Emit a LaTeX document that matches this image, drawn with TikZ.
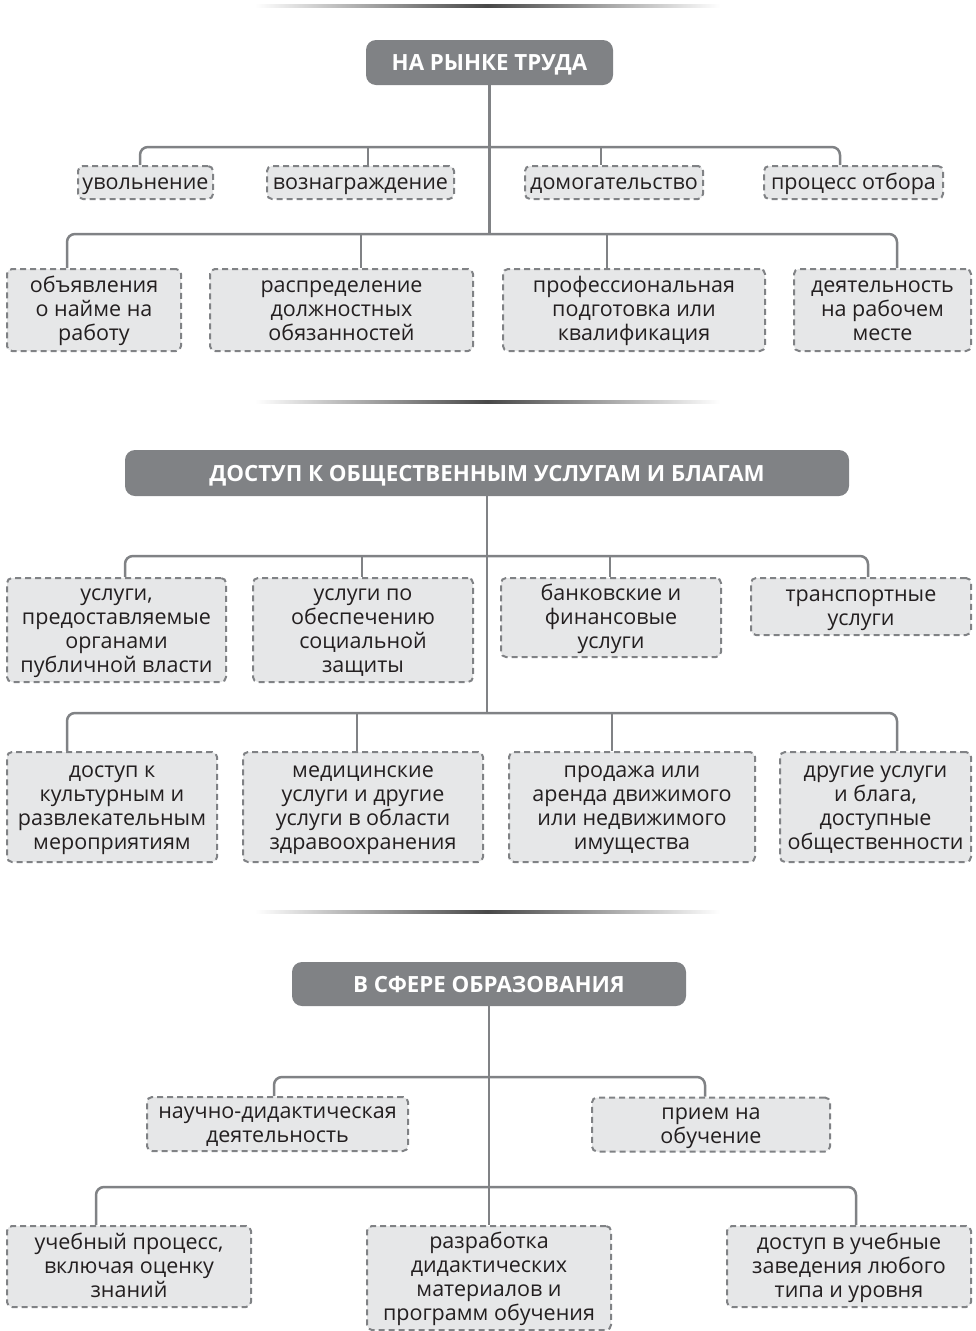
\documentclass[tikz,border=0pt]{standalone}
\usepackage{fontspec}
\setmainfont{Open Sans}
\definecolor{linegray}{RGB}{128,130,133}
\definecolor{boxfill}{RGB}{230,231,232}
\definecolor{txt}{RGB}{35,31,32}
\newcommand{\topstrut}{\rule{0pt}{18.2pt}}
\newcommand{\botstrut}{\rule[-5.2pt]{0pt}{5.2pt}}
\newcommand{\tx}[1]{\topstrut#1\botstrut}
\begin{document}
\begin{tikzpicture}[x=1pt,y=-1pt,
  conn/.style={draw=linegray,line width=2.5pt,rounded corners=8pt},
  hdr/.style={fill=linegray,rounded corners=10pt,text=white,inner sep=0pt,
    text height=16pt,text depth=0pt,
    font=\bfseries\fontsize{22.3}{24}\selectfont},
  item/.style={draw=linegray,fill=boxfill,line width=2pt,dash pattern=on 6pt off 4pt,
    rounded corners=5pt,inner sep=0pt,align=center,text=txt,
    font=\fontsize{21.5}{24}\selectfont},
  sepline/.style={left color=white,right color=white,middle color=black!72}]
\useasboundingbox (0,0) rectangle (975,1331);

% separators
\shade[sepline] (255,4.5) rectangle (720,7.5);
\shade[sepline] (255,400.5) rectangle (720,403.5);
\shade[sepline] (255,910.5) rectangle (720,913.5);

% ===== Section 1 =====
\node[hdr,minimum width=247pt,minimum height=45pt] (h1) at (489.5,62.5) {НА РЫНКЕ ТРУДА};

\node[item,minimum width=135pt,minimum height=33pt] (a1) at (145.5,182.5) {\tx{увольнение}};
\node[item,minimum width=187pt,minimum height=33pt] (a2) at (360.5,182.5) {\tx{вознаграждение}};
\node[item,minimum width=178pt,minimum height=33pt] (a3) at (614,182.5) {\tx{домогательство}};
\node[item,minimum width=179pt,minimum height=33pt] (a4) at (853.5,182.5) {\tx{процесс отбора}};

\node[item,minimum width=174pt,minimum height=82pt] (b1) at (94,310) {\tx{объявления\\о найме на\\работу}};
\node[item,minimum width=263pt,minimum height=82pt] (b2) at (341.5,310) {\tx{распределение\\должностных\\обязанностей}};
\node[item,minimum width=262pt,minimum height=82pt] (b3) at (634,310) {\tx{профессиональная\\подготовка или\\квалификация}};
\node[item,minimum width=177pt,minimum height=82pt] (b4) at (882.5,310) {\tx{деятельность\\на рабочем\\месте}};

\coordinate (p11) at (140,147);
\coordinate (p12) at (368,147);
\coordinate (p13) at (601,147);
\coordinate (p14) at (840,147);
\coordinate (p21) at (67,234);
\coordinate (p22) at (361,234);
\coordinate (p23) at (607,234);
\coordinate (p24) at (897,234);

\draw[conn] (h1.south) -- (h1.south |- p21);
\draw[conn] (p11 |- a1.north) -- (p11) -- (p14) -- (p14 |- a4.north);
\draw[conn] (p12) -- (p12 |- a2.north);
\draw[conn] (p13) -- (p13 |- a3.north);
\draw[conn] (p21 |- b1.north) -- (p21) -- (p24) -- (p24 |- b4.north);
\draw[conn] (p22) -- (p22 |- b2.north);
\draw[conn] (p23) -- (p23 |- b3.north);

% ===== Section 2 =====
\node[hdr,minimum width=724pt,minimum height=46pt] (h2) at (487,473) {ДОСТУП К ОБЩЕСТВЕННЫМ УСЛУГАМ И БЛАГАМ};

\node[item,minimum width=219pt,minimum height=104pt] (c1) at (116.5,630) {\tx{услуги,\\предоставляемые\\органами\\публичной власти}};
\node[item,minimum width=220pt,minimum height=104pt] (c2) at (363,630) {\tx{услуги по\\обеспечению\\социальной\\защиты}};
\node[item,minimum width=220pt,minimum height=79pt] (c3) at (611,617.5) {\tx{банковские и\\финансовые\\услуги}};
\node[item,minimum width=220pt,minimum height=57pt] (c4) at (861,606.5) {\tx{транспортные\\услуги}};

\node[item,minimum width=210pt,minimum height=110pt] (d1) at (112,807) {\tx{доступ к\\культурным и\\развлекательным\\мероприятиям}};
\node[item,minimum width=240pt,minimum height=110pt] (d2) at (363,807) {\tx{медицинские\\услуги и другие\\услуги в области\\здравоохранения}};
\node[item,minimum width=246pt,minimum height=110pt] (d3) at (632,807) {\tx{продажа или\\аренда движимого\\или недвижимого\\имущества}};
\node[item,minimum width=191pt,minimum height=110pt] (d4) at (875.5,807) {\tx{другие услуги\\и блага,\\доступные\\общественности}};

\coordinate (q11) at (125,556);
\coordinate (q12) at (362,556);
\coordinate (q13) at (610,556);
\coordinate (q14) at (868,556);
\coordinate (q21) at (67,713);
\coordinate (q22) at (357,713);
\coordinate (q23) at (612,713);
\coordinate (q24) at (897,713);

\draw[conn] (h2.south) -- (h2.south |- q21);
\draw[conn] (q11 |- c1.north) -- (q11) -- (q14) -- (q14 |- c4.north);
\draw[conn] (q12) -- (q12 |- c2.north);
\draw[conn] (q13) -- (q13 |- c3.north);
\draw[conn] (q21 |- d1.north) -- (q21) -- (q24) -- (q24 |- d4.north);
\draw[conn] (q22) -- (q22 |- d2.north);
\draw[conn] (q23) -- (q23 |- d3.north);

% ===== Section 3 =====
\node[hdr,minimum width=394pt,minimum height=44pt] (h3) at (489,984) {В СФЕРЕ ОБРАЗОВАНИЯ};

\node[item,minimum width=261pt,minimum height=54pt] (e1) at (277.5,1124) {\tx{научно-дидактическая\\деятельность}};
\node[item,minimum width=238pt,minimum height=54pt] (e2) at (711,1124.5) {\tx{прием на\\обучение}};

\node[item,minimum width=244pt,minimum height=81pt] (f1) at (129,1266.5) {\tx{учебный процесс,\\включая оценку\\знаний}};
\node[item,minimum width=244pt,minimum height=104pt] (f2) at (489,1278) {\tx{разработка\\дидактических\\материалов и\\программ обучения}};
\node[item,minimum width=244pt,minimum height=81pt] (f3) at (849,1266.5) {\tx{доступ в учебные\\заведения любого\\типа и уровня}};

\coordinate (r11) at (274,1077);
\coordinate (r12) at (705,1077);
\coordinate (r21) at (96,1187);
\coordinate (r22) at (856,1187);

\draw[conn] (h3.south) -- (f2.north);
\draw[conn] (r11 |- e1.north) -- (r11) -- (r12) -- (r12 |- e2.north);
\draw[conn] (r21 |- f1.north) -- (r21) -- (r22) -- (r22 |- f3.north);
\end{tikzpicture}
\end{document}
